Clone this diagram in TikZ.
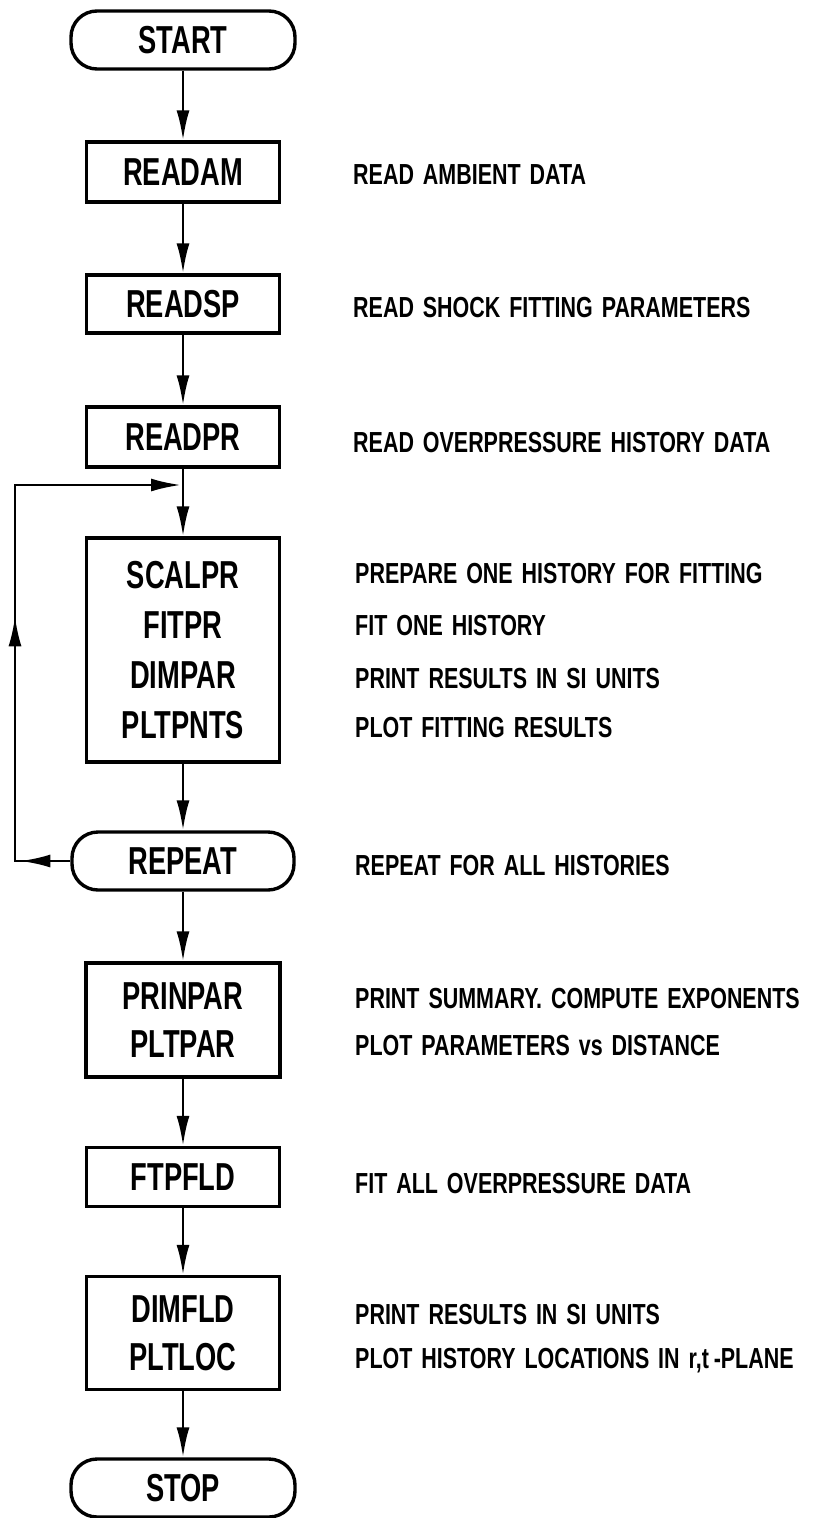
\documentclass[tikz,border=0pt]{standalone}
\usepackage{fontspec}
\newfontfamily\lblfont[FakeStretch=0.70]{Liberation Sans}
\newfontfamily\descfont[FakeStretch=0.74,WordSpace=1.5]{Liberation Sans}
\usetikzlibrary{arrows.meta,decorations.markings}
\begin{document}
\begin{tikzpicture}[x=1pt,y=-1pt,
  >={Latex[length=30pt,width=13pt]},
  box/.style={draw, line width=3.4pt, minimum width=193pt, inner sep=0pt, align=center,
    font=\lblfont\bfseries\fontsize{39pt}{48pt}\selectfont},
  term/.style={box, rounded corners=26pt, minimum width=224pt, minimum height=58pt},
  desc/.style={anchor=base west, inner sep=0pt, font=\descfont\bfseries\fontsize{29pt}{35pt}\selectfont},
  flow/.style={line width=2.6pt, ->}
  ]
\useasboundingbox (0,0) rectangle (826,1518);

% flowchart nodes
\node[term] (start) at (183,40) {START};
\node[box, minimum height=60pt] (readam) at (183,172) {READAM};
\node[box, minimum height=58pt] (readsp) at (183,304) {READSP};
\node[box, minimum height=60pt] (readpr) at (183,437) {READPR};
\node[box, minimum height=224pt, font=\lblfont\bfseries\fontsize{39pt}{50pt}\selectfont] (scalpr) at (183,650)
  {SCALPR\\FITPR\\DIMPAR\\PLTPNTS};
\node[term, minimum width=222pt] (repeat) at (183,861) {REPEAT};
\node[box, minimum height=114pt, minimum width=194pt] (prinpar) at (183,1020) {PRINPAR\\PLTPAR};
\node[box, minimum height=59pt] (ftpfld) at (183,1177) {FTPFLD};
\node[box, minimum height=113pt] (dimfld) at (183,1333) {DIMFLD\\PLTLOC};
\node[term] (stop) at (183,1488) {STOP};

% descriptions
\node[desc] (d1) at (353,184) {READ AMBIENT DATA};
\node[desc] (d2) at (353,317) {READ SHOCK FITTING PARAMETERS};
\node[desc] (d3) at (353,452) {READ OVERPRESSURE HISTORY DATA};
\node[desc] (d4) at (355,583) {PREPARE ONE HISTORY FOR FITTING};
\node[desc] (d5) at (355,635) {FIT ONE HISTORY};
\node[desc] (d6) at (355,688) {PRINT RESULTS IN SI UNITS};
\node[desc] (d7) at (355,737) {PLOT FITTING RESULTS};
\node[desc] (d8) at (355,875) {REPEAT FOR ALL HISTORIES};
\node[desc] (d9) at (355,1008) {PRINT SUMMARY. COMPUTE EXPONENTS};
\node[desc] (d10) at (355,1055) {PLOT PARAMETERS vs DISTANCE};
\node[desc] (d11) at (355,1193) {FIT ALL OVERPRESSURE DATA};
\node[desc] (d12) at (355,1324) {PRINT RESULTS IN SI UNITS};
\node[desc] (d13) at (355,1368) {PLOT HISTORY LOCATIONS IN r,t\,-PLANE};

% main flow
\draw[flow] (start) -- (readam);
\draw[flow] (readam) -- (readsp);
\draw[flow] (readsp) -- (readpr);
\draw[flow] (readpr) -- (scalpr);
\draw[flow] (scalpr) -- (repeat);
\draw[flow] (repeat) -- (prinpar);
\draw[flow] (prinpar) -- (ftpfld);
\draw[flow] (ftpfld) -- (dimfld);
\draw[flow] (dimfld) -- (stop);

% loop back
\coordinate (j) at (183,485);
\coordinate (lc1) at (15,861);
\coordinate (lc2) at (15,485);
\draw[line width=2.6pt, ->, shorten >=2pt,
  postaction=decorate,
  decoration={markings,
    mark=at position 50pt with {\arrow{>}},
    mark=at position 300pt with {\arrow{>}}}]
  (repeat.west) -- (lc1) -- (lc2) -- (j);
\end{tikzpicture}
\end{document}
